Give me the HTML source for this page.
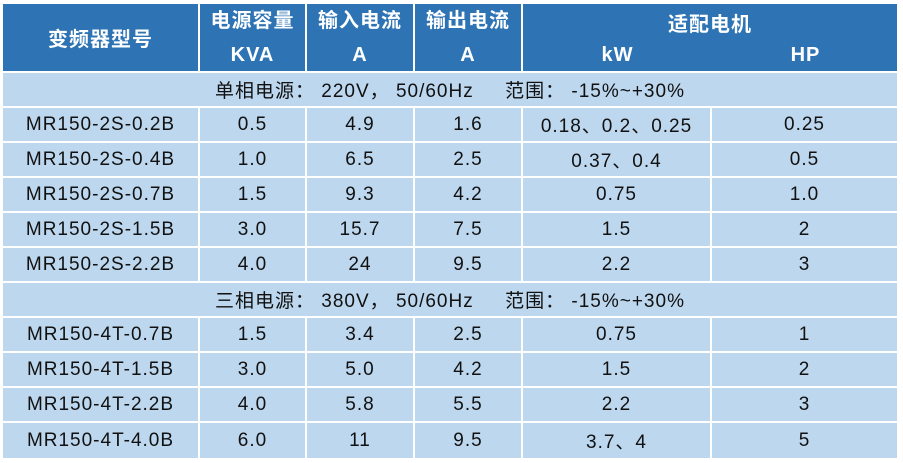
<!DOCTYPE html>
<html><head><meta charset="utf-8"><style>
body{margin:0;width:903px;height:463px;background:#fff;position:relative;overflow:hidden;font-family:"Liberation Sans","Noto Sans CJK SC",sans-serif;}
.c{position:absolute;display:flex;align-items:center;justify-content:center;font-size:19px;letter-spacing:1px;color:#111;box-sizing:border-box;background:#bdd7ee;white-space:nowrap}
.h{background:#2e74b5;color:#fff;font-weight:bold;font-size:20px;letter-spacing:1px}
</style></head><body>
<div id="t"></div>
<script>
const X=[3,200,307,415,523,712,899];
const R=[4,40,73,108,143,178,213,248,283,318,353,388,423,460];
let h='';
function cell(x1,y1,x2,y2,t,cls,style){h+=`<div class="c ${cls||''}" style="left:${x1}px;top:${y1}px;width:${x2-x1-2}px;height:${y2-y1-2}px;${style||''}">${t}</div>`;}
cell(X[0],R[0],X[1],R[2],'变频器型号','h');
[['电源容量','KVA'],['输入电流','A'],['输出电流','A']].forEach((p,i)=>{
cell(X[i+1],R[0],X[i+2],R[2],'<div style="text-align:center;line-height:34px">'+p[0]+'<br>'+p[1]+'</div>','h');});
cell(X[4],R[0],X[6],R[1]+2,'适配电机','h');
cell(X[4],R[1],X[6],R[2],'','h');
h+=`<div class="c h" style="left:523px;top:40px;width:189px;height:31px;background:none">kW</div><div class="c h" style="left:712px;top:40px;width:187px;height:31px;background:none">HP</div>`;
const d=[['MR150-2S-0.2B','0.5','4.9','1.6','0.18、0.2、0.25','0.25'],['MR150-2S-0.4B','1.0','6.5','2.5','0.37、0.4','0.5'],['MR150-2S-0.7B','1.5','9.3','4.2','0.75','1.0'],['MR150-2S-1.5B','3.0','15.7','7.5','1.5','2'],['MR150-2S-2.2B','4.0','24','9.5','2.2','3'],
null,['MR150-4T-0.7B','1.5','3.4','2.5','0.75','1'],['MR150-4T-1.5B','3.0','5.0','4.2','1.5','2'],['MR150-4T-2.2B','4.0','5.8','5.5','2.2','3'],['MR150-4T-4.0B','6.0','11','9.5','3.7、4','5']];
cell(X[0],R[2],X[6],R[3],'<span>单相电源：&nbsp;220V，&nbsp;50/60Hz&nbsp;&nbsp;&nbsp;&nbsp;&nbsp;范围：&nbsp;-15%~+30%</span>');
cell(X[0],R[8],X[6],R[9],'<span>三相电源：&nbsp;380V，&nbsp;50/60Hz&nbsp;&nbsp;&nbsp;&nbsp;&nbsp;范围：&nbsp;-15%~+30%</span>');
d.forEach((r,i)=>{if(!r)return;r.forEach((t,j)=>cell(X[j],R[i+3],X[j+1],R[i+4],t));});
document.getElementById('t').innerHTML=h;
</script>
</body></html>
